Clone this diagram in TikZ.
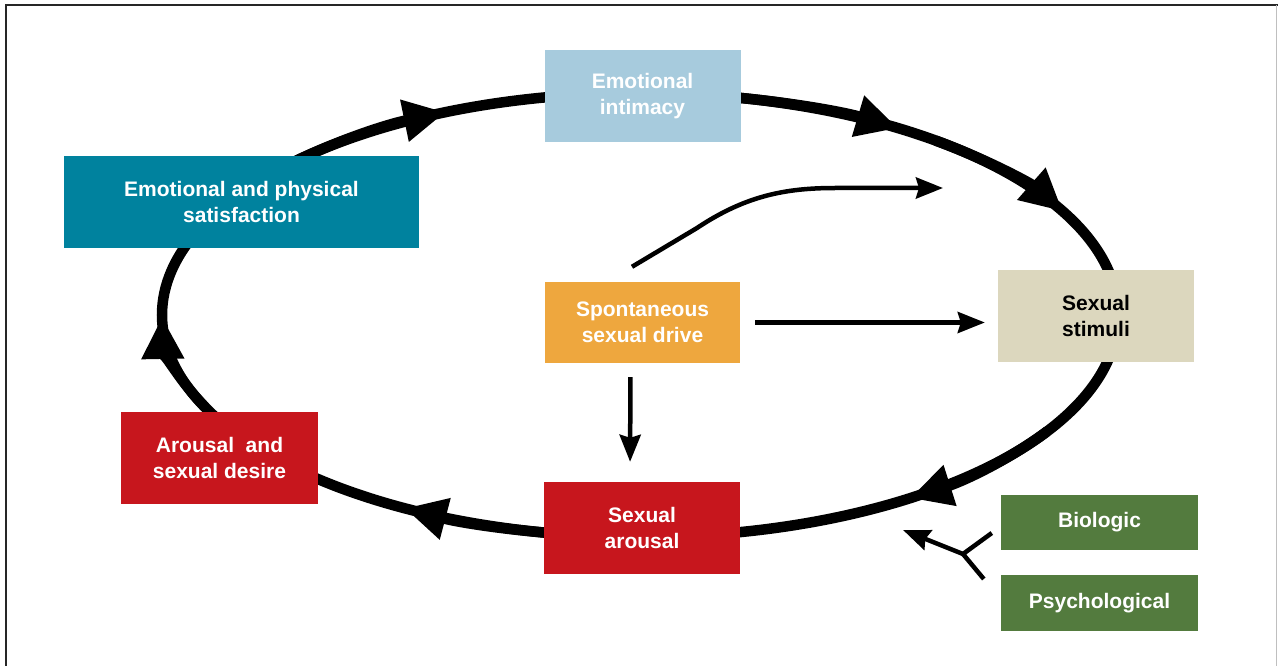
\documentclass[tikz,border=0pt]{standalone}
\usepackage{fontspec}
\setmainfont{Liberation Sans}
\usetikzlibrary{arrows.meta,calc}
\definecolor{cIntim}{HTML}{A7CBDD}
\definecolor{cSatis}{HTML}{00829E}
\definecolor{cSpont}{HTML}{EEA73E}
\definecolor{cStim}{HTML}{DCD7BE}
\definecolor{cRed}{HTML}{C7161D}
\definecolor{cGreen}{HTML}{537B3E}
\tikzset{
  box/.style={rectangle, inner sep=0pt, minimum width=196pt, minimum height=92pt,
    text=white, align=center, font=\bfseries\fontsize{21}{26}\selectfont},
  ring/.style={line width=10.5pt, black},
  bighead/.style={-{Triangle[length=42pt,width=40pt]}},
  thinarrow/.style={line width=4.5pt, black, -{Stealth[length=27pt,width=21pt,inset=3pt]}},
  thinline/.style={line width=4.5pt, black},
}
\begin{document}
\begin{tikzpicture}[x=1pt,y=1pt]
\useasboundingbox (0,0) rectangle (1278,-666);
% frame
\draw[line width=1.6pt, black!85] (6,-666) -- (6,-5) -- (1278,-5);
\draw[line width=1pt, black!25] (1276.5,-5) -- (1276.5,-666);
% ellipse cycle
\coordinate (ec) at (640,-315);
\draw[ring] (ec) ellipse [x radius=478, y radius=222];
\foreach \t in {114,57.3,27.8,-55.6,-119.5,180.5}{
  \draw[ring, bighead] ($(ec)+({478*cos(\t+24)},{222*sin(\t+24)})$)
    arc[start angle=\t+24, end angle=\t, x radius=478, y radius=222];
}
% boxes
\node[box, fill=cIntim] (intim) at (642.5,-96) {Emotional\\intimacy};
\node[box, fill=cSatis, minimum width=355pt] (satis) at (241.5,-202) {Emotional and physical\\satisfaction};
\node[box, fill=cSpont, minimum height=81pt, minimum width=195pt] (spont) at (642.5,-322.5) {Spontaneous\\sexual drive};
\node[box, fill=cStim, text=black] (stim) at (1096,-316) {Sexual\\stimuli};
\node[box, fill=cRed, minimum width=197pt] (desire) at (219.5,-458) {Arousal~ and\\sexual desire};
\node[box, fill=cRed] (arousal) at (642,-528) {Sexual\\arousal};
\node[box, fill=cGreen, minimum height=55pt, minimum width=197pt] (bio) at (1099.5,-522.5) {Biologic};
\node[box, fill=cGreen, minimum height=56pt, minimum width=197pt] (psy) at (1099.5,-603) {Psychological};
% arrows from spontaneous drive
\draw[thinarrow, shorten <=15pt, shorten >=13pt] (spont.east) -- (spont.east -| stim.west);
\draw[thinarrow, shorten <=14pt, shorten >=20pt] ($(spont.south)+(-12,0)$) -- ($(arousal.north)+(-12,0)$);
\coordinate (cs) at ($(spont.north)+(-10.5,15)$);
\coordinate (ce) at (943,-188);
\draw[thinarrow] (cs) -- (697,-228) .. controls (745,-196) and (785,-188) .. (835,-188) -- (ce);
% Y fork from biologic / psychological
\coordinate (fj) at (963,-554);
\coordinate (fb) at ($(bio.west)+(-9,-10.5)$);
\coordinate (fp) at ($(psy.west)+(-17,24)$);
\coordinate (ft) at (903,-530);
\draw[thinline] (fb) -- (fj) -- (fp);
\draw[thinarrow] (fj) -- (ft);
\end{tikzpicture}
\end{document}
